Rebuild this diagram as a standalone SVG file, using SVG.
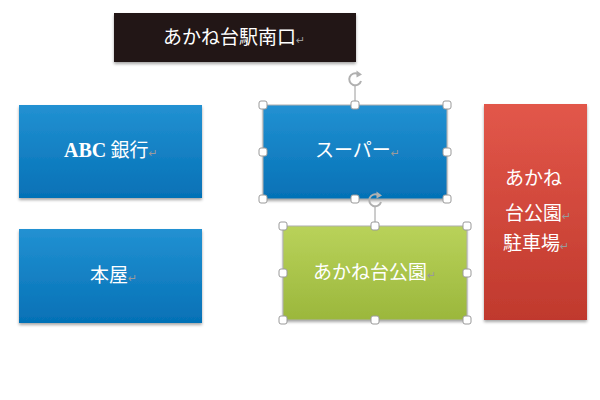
<svg xmlns="http://www.w3.org/2000/svg" width="600" height="400" viewBox="0 0 600 400">
<defs>
<linearGradient id="gBlue" x1="0" y1="0" x2="0" y2="1">
<stop offset="0" stop-color="#2291d2"/><stop offset="1" stop-color="#0571b6"/>
</linearGradient>
<linearGradient id="gGreen" x1="0" y1="0" x2="0" y2="1">
<stop offset="0" stop-color="#b9d25a"/><stop offset="1" stop-color="#9bb73c"/>
</linearGradient>
<linearGradient id="gRed" x1="0" y1="0" x2="0" y2="1">
<stop offset="0" stop-color="#e2574a"/><stop offset="1" stop-color="#c0392d"/>
</linearGradient>
<filter id="sh" x="-10%" y="-10%" width="120%" height="130%">
<feDropShadow dx="0" dy="2" stdDeviation="1.5" flood-color="#000" flood-opacity="0.35"/>
</filter>
</defs>
<style>
.lbl{font-family:"Noto Sans CJK JP","DejaVu Sans",sans-serif;font-size:19px;fill:#ffffff}
.ser{font-family:"Liberation Serif","Noto Serif CJK JP",serif;font-weight:bold}
.ret{font-family:"DejaVu Sans",sans-serif;font-size:11px;fill:#9a9a9a}
.h{fill:#ffffff;stroke:#9a9a9a;stroke-width:1}
.sel{fill:none;stroke:#b0b0b0;stroke-width:1}
.rot{fill:none;stroke:#b0b0b0;stroke-width:2}
</style>
<rect width="600" height="400" fill="#ffffff"/>
<g id="connectors"></g>
<g id="station">
<rect x="114" y="13" width="242" height="49" fill="#231815" filter="url(#sh)"/>
<text class="lbl" x="163" y="44">あかね台駅南口<tspan class="ret">↵</tspan></text>
</g>
<g id="bank">
<rect x="19" y="105" width="183" height="93" fill="url(#gBlue)" filter="url(#sh)"/>
<text class="lbl" x="64" y="157"><tspan class="ser" font-size="20">ABC</tspan> 銀行<tspan class="ret">↵</tspan></text>
</g>
<g id="bookstore">
<rect x="19" y="229" width="183" height="94" fill="url(#gBlue)" filter="url(#sh)"/>
<text class="lbl" x="90" y="282">本屋<tspan class="ret">↵</tspan></text>
</g>
<g id="super">
<rect x="263" y="105" width="184" height="94" fill="url(#gBlue)" filter="url(#sh)"/>
<rect class="sel" x="263" y="105" width="184" height="94"/>
<text class="lbl" x="315" y="157">スーパー<tspan class="ret">↵</tspan></text>
</g>
<g id="park">
<rect x="283" y="226" width="184" height="94" fill="url(#gGreen)" filter="url(#sh)"/>
<rect class="sel" x="283" y="226" width="184" height="94"/>
<text class="lbl" x="313" y="279">あかね台公園<tspan class="ret">↵</tspan></text>
</g>
<g id="parking">
<rect x="484" y="104" width="103" height="216" fill="url(#gRed)" filter="url(#sh)"/>
<text class="lbl" x="505" y="185">あかね</text>
<text class="lbl" x="505" y="220">台公園<tspan class="ret">↵</tspan></text>
<text class="lbl" x="503" y="250">駐車場<tspan class="ret">↵</tspan></text>
</g>
<g id="handles">
<line x1="355" y1="86" x2="355" y2="105" stroke="#9a9a9a" stroke-width="1"/>
<path class="rot" d="M361 81 A6 6 0 1 1 358 74"/>
<path d="M356.5 70.5 L362 74.5 L356.5 77.5 Z" fill="#b0b0b0"/>
<line x1="375" y1="207" x2="375" y2="226" stroke="#9a9a9a" stroke-width="1"/>
<path class="rot" d="M381 202 A6 6 0 1 1 378 195"/>
<path d="M376.5 191.5 L382 195.5 L376.5 198.5 Z" fill="#b0b0b0"/>
<rect class="h" x="259" y="101" width="8" height="8" rx="2"/>
<rect class="h" x="351" y="101" width="8" height="8" rx="2"/>
<rect class="h" x="443" y="101" width="8" height="8" rx="2"/>
<rect class="h" x="259" y="148" width="8" height="8" rx="2"/>
<rect class="h" x="443" y="148" width="8" height="8" rx="2"/>
<rect class="h" x="259" y="195" width="8" height="8" rx="2"/>
<rect class="h" x="351" y="195" width="8" height="8" rx="2"/>
<rect class="h" x="443" y="195" width="8" height="8" rx="2"/>
<rect class="h" x="279" y="222" width="8" height="8" rx="2"/>
<rect class="h" x="371" y="222" width="8" height="8" rx="2"/>
<rect class="h" x="463" y="222" width="8" height="8" rx="2"/>
<rect class="h" x="279" y="269" width="8" height="8" rx="2"/>
<rect class="h" x="463" y="269" width="8" height="8" rx="2"/>
<rect class="h" x="279" y="316" width="8" height="8" rx="2"/>
<rect class="h" x="371" y="316" width="8" height="8" rx="2"/>
<rect class="h" x="463" y="316" width="8" height="8" rx="2"/>
</g>
</svg>
